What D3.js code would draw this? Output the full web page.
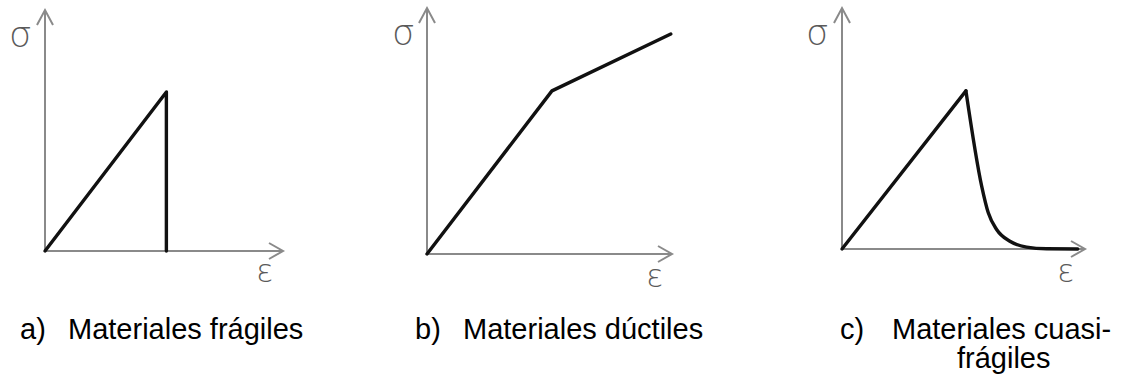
<!DOCTYPE html>
<html>
<head>
<meta charset="utf-8">
<script src="https://cdn.jsdelivr.net/npm/d3@7"></script>
<style>
  body { margin: 0; background: #fff; }
  svg { display: block; }
  .cap { font-family: 'Liberation Sans', Arial, Helvetica, sans-serif; font-size: 29px; fill: #000; }
  .sym { font-family: 'DejaVu Sans', sans-serif; font-weight: 200; fill: #5a5a5a; }
</style>
</head>
<body>
<svg id="chart" width="1135" height="381"></svg>
<script>
// curves in data units (strain, stress), both axes 0..10
const fragil = [[0, 0], [5.1, 6.6], [5.1, 0]];
const ductil = [[0, 0], [5.1, 6.63], [9.95, 8.94]];
const cuasiElastic = [[0, 0], [5.1, 6.56]];
const cuasiSoftening = [[5.1, 6.56], [5.75, 2.6], [6.02, 1.5], [6.37, 0.8], [6.91, 0.32], [7.6, 0.08], [8.42, 0.01], [9.7, 0]];

const captionTags = ['a)', 'b)', 'c)'];
const captionLines = [['Materiales frágiles'], ['Materiales dúctiles'], ['Materiales cuasi-', 'frágiles']];

// panel layout: origin and arrow tips in pixels
const panels = [
  { ox: 45, oy: 251, xTip: 283, yTip: 10, series: [[fragil, 'linear']],
    sigma: [9, 47], eps: [256, 282], tag: 20, text: 68, line2: 0 },
  { ox: 427, oy: 254, xTip: 672, yTip: 8, series: [[ductil, 'linear']],
    sigma: [392, 45], eps: [646, 287], tag: 415, text: 463, line2: 0 },
  { ox: 842, oy: 249, xTip: 1085, yTip: 8, series: [[cuasiElastic, 'linear'], [cuasiSoftening, 'monotone']],
    sigma: [806, 45], eps: [1057, 282], tag: 840, text: 892, line2: 957 }
];

const svg = d3.select('#chart');
const axisColor = '#8a8a8a';

panels.forEach((p, i) => {
  const x = d3.scaleLinear().domain([0, 10]).range([p.ox, p.xTip]);
  const y = d3.scaleLinear().domain([0, 10]).range([p.oy, p.yTip]);
  const g = svg.append('g');

  // axes with open arrowheads
  g.append('line')
    .attr('x1', x(0)).attr('y1', y(0)).attr('x2', x(0)).attr('y2', y(10))
    .attr('stroke', axisColor).attr('stroke-width', 2);
  g.append('line')
    .attr('x1', x(0)).attr('y1', y(0)).attr('x2', x(10)).attr('y2', y(0))
    .attr('stroke', axisColor).attr('stroke-width', 2);
  g.append('path')
    .attr('d', `M${x(0) - 8},${y(10) + 15}L${x(0)},${y(10)}L${x(0) + 8},${y(10) + 15}`)
    .attr('fill', 'none').attr('stroke', axisColor).attr('stroke-width', 2);
  g.append('path')
    .attr('d', `M${x(10) - 14},${y(0) - 8}L${x(10)},${y(0)}L${x(10) - 14},${y(0) + 8}`)
    .attr('fill', 'none').attr('stroke', axisColor).attr('stroke-width', 2);

  // stress-strain curves
  p.series.forEach(([data, kind]) => {
    const line = d3.line()
      .x(d => x(d[0])).y(d => y(d[1]))
      .curve(kind === 'monotone' ? d3.curveMonotoneX : d3.curveLinear);
    g.append('path')
      .datum(data)
      .attr('d', line)
      .attr('fill', 'none')
      .attr('stroke', '#111')
      .attr('stroke-width', 3.4)
      .attr('stroke-linejoin', 'round')
      .attr('stroke-linecap', 'round');
  });

  // axis symbols
  g.append('text').attr('class', 'sym')
    .attr('x', p.sigma[0]).attr('y', p.sigma[1])
    .attr('font-size', '36px')
    .text('σ');
  g.append('text').attr('class', 'sym')
    .attr('x', p.eps[0]).attr('y', p.eps[1])
    .attr('font-size', '32px')
    .text('ε');

  // captions
  const cap = svg.append('g').attr('class', 'cap');
  cap.append('text').attr('class', 'cap').attr('x', p.tag).attr('y', 339).text(captionTags[i]);
  captionLines[i].forEach((t, j) => {
    cap.append('text').attr('class', 'cap')
      .attr('x', j === 0 ? p.text : p.line2)
      .attr('y', 339 + j * 29)
      .text(t);
  });
});
</script>
</body>
</html>
